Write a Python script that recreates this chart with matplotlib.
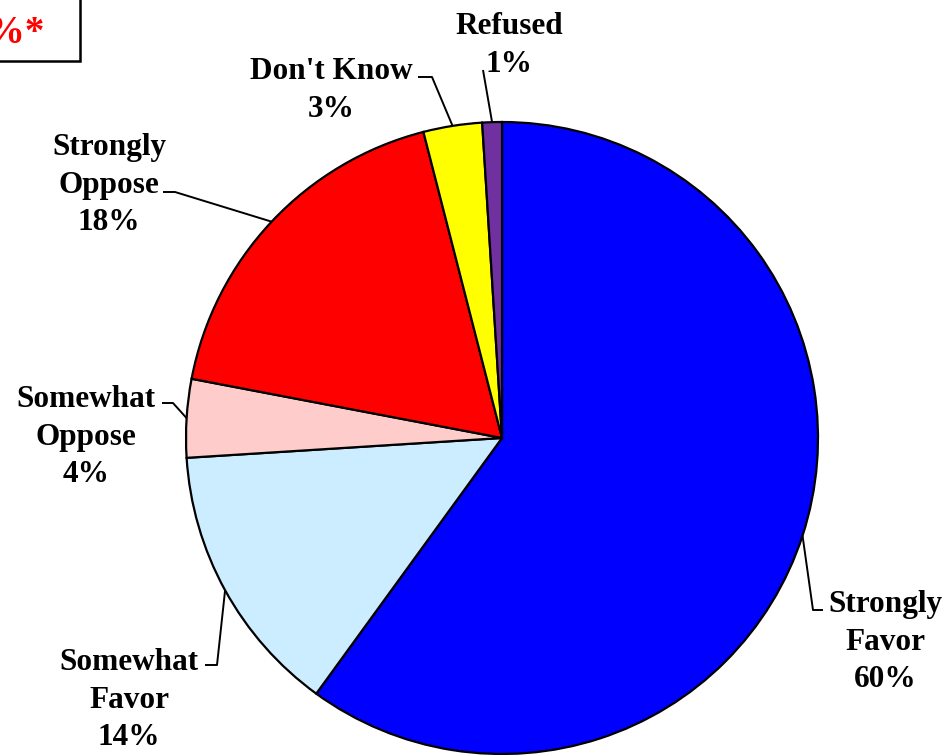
import numpy as np
import matplotlib
matplotlib.use("Agg")
import matplotlib.pyplot as plt
from matplotlib.patches import Rectangle

# ---- data ----
categories = ["Strongly\nFavor", "Somewhat\nFavor", "Somewhat\nOppose",
              "Strongly\nOppose", "Don't Know", "Refused"]
values = [60, 14, 4, 18, 3, 1]
pct_labels = ["60%", "14%", "4%", "18%", "3%", "1%"]
colors = ["#0000FF", "#CCECFF", "#FFCCCC", "#FF0000", "#FFFF00", "#7030A0"]

W, H = 947, 755
fig = plt.figure(figsize=(W / 100, H / 100), dpi=100)
ax = fig.add_axes([0, 0, 1, 1])

def Y(y):  # top-down pixel -> data y
    return H - y

cx, cy, R = 502, Y(438), 316
wedges, _ = ax.pie(values, colors=colors, startangle=90, counterclock=False,
                   center=(cx, cy), radius=R,
                   wedgeprops=dict(edgecolor="black", linewidth=1.6))
ax.set_xlim(0, W)
ax.set_ylim(0, H)
ax.set_aspect("equal")
ax.axis("off")

# label layout (top-down pixel coords): text center x, text top y, elbow, end
layout = [
    dict(tx=885, ty=590, elbow=(813, 610), end=(823, 610)),
    dict(tx=129, ty=648, elbow=(217, 665), end=(205, 665)),
    dict(tx=86, ty=385, elbow=(173, 403), end=(162, 403)),
    dict(tx=109, ty=133, elbow=(175, 192), end=(163, 192)),
    dict(tx=331, ty=57, elbow=(432, 77), end=(418, 77)),
    dict(tx=509, ty=12, elbow=(483, 70), end=(483, 70)),
]

font = dict(family="Liberation Serif", weight="bold", size=22.5)
total = float(sum(values))
cum = 0.0
for cat, v, pl, lay in zip(categories, values, pct_labels, layout):
    mid = 90 - 360 * (cum + v / 2) / total
    cum += v
    ax_ = cx + R * np.cos(np.radians(mid))
    ay_ = cy + R * np.sin(np.radians(mid))
    ex, ey = lay["elbow"]
    nx, ny = lay["end"]
    ax.plot([ax_, ex, nx], [ay_, Y(ey), Y(ny)], color="black", lw=1.4,
            solid_capstyle="butt", zorder=3)
    ax.text(lay["tx"], Y(lay["ty"]), cat + "\n" + pl, ha="center", va="top",
            multialignment="center", linespacing=1.39, **font)

# partially visible note box at top-left
ax.add_patch(Rectangle((-20, Y(61)), 100, 90, facecolor="white",
                       edgecolor="black", linewidth=1.8, zorder=4))
ax.text(44, Y(43), "%*", ha="right", va="baseline", color="#FF0000",
        family="Liberation Serif", weight="bold", size=28, zorder=5)

fig.savefig("out.png", dpi=100)
